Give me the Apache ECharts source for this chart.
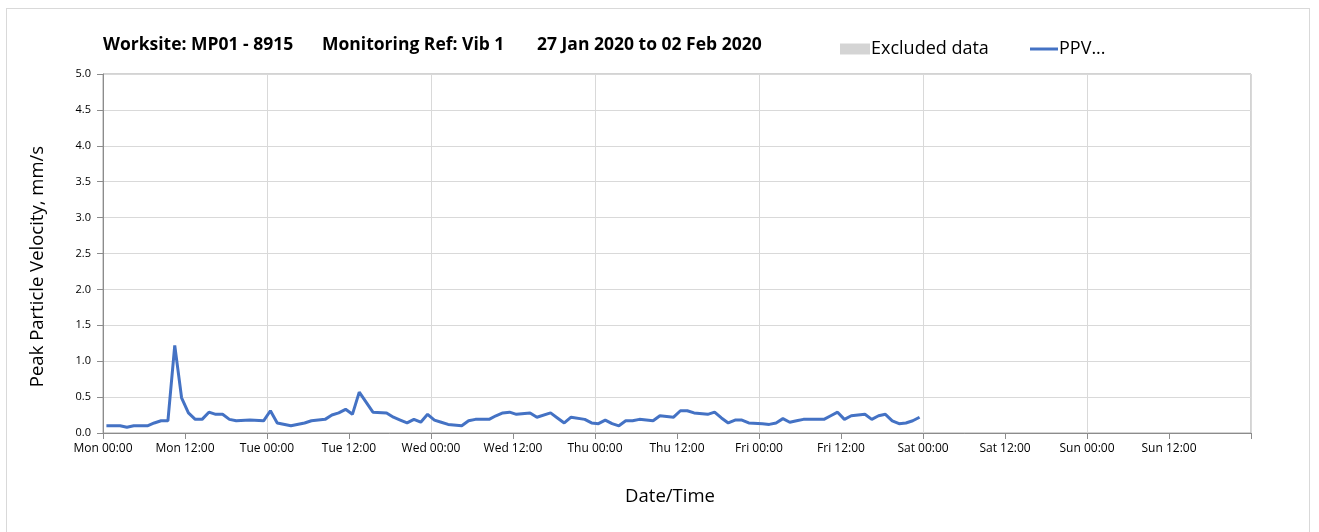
<!DOCTYPE html>
<html>
<head>
<meta charset="utf-8">
<script src="https://cdn.jsdelivr.net/npm/echarts@6/dist/echarts.min.js"></script>
<style>
  html, body { margin: 0; padding: 0; background: #fff; }
  #frame {
    position: absolute; left: 6px; top: 8px;
    width: 1304px; height: 530px;
    border: 1px solid #d9d9d9; box-sizing: border-box;
  }
  #chart { position: absolute; left: 0; top: 0; width: 1319px; height: 532px; }
</style>
</head>
<body>
<div id="frame"></div>
<div id="chart"></div>
<script>
// hours since Mon 27 Jan 2020 00:00
const hours = [
  0.5, 2.5, 3.5, 4.5, 6.5, 7.5, 8.5, 9.5, 10.5, 11.5, 12.5, 13.5, 14.5, 15.5, 16.5, 17.5, 18.5, 19.5, 21.5, 23.5,
  24.5, 25.5, 27.5, 29.5, 30.5, 32.5, 33.5, 34.5, 35.5, 36.5, 37.5, 38.5, 39.5, 41.5, 42.5, 43.5, 44.5, 45.5, 46.5, 47.5,
  48.5, 49.5, 50.5, 52.5, 53.5, 54.5, 56.5, 57.5, 58.5, 59.5, 60.5, 62.5, 63.5, 65.5, 66.5, 67.5, 68.5, 70.5, 71.5,
  72.5, 73.5, 74.5, 75.5, 76.5, 77.5, 78.5, 80.5, 81.5, 83.5, 84.5, 85.5, 86.5, 88.5, 89.5, 90.5, 91.5, 92.5, 93.5, 94.5,
  96.5, 97.5, 98.5, 99.5, 100.5, 101.5, 102.5, 105.5, 106.5, 107.5, 108.5, 109.5, 111.5, 112.5, 113.5, 114.5, 115.5,
  116.5, 117.5, 118.5, 119.5
];
// peak particle velocity, mm/s
const ppv = [
  0.10, 0.10, 0.08, 0.10, 0.10, 0.14, 0.17, 0.17, 1.22, 0.49, 0.28, 0.19, 0.19, 0.29, 0.26, 0.26, 0.19, 0.17, 0.18, 0.17,
  0.31, 0.14, 0.10, 0.14, 0.17, 0.19, 0.25, 0.28, 0.33, 0.26, 0.57, 0.43, 0.29, 0.28, 0.22, 0.18, 0.14, 0.19, 0.15, 0.26,
  0.18, 0.15, 0.12, 0.10, 0.17, 0.19, 0.19, 0.24, 0.28, 0.29, 0.26, 0.28, 0.22, 0.28, 0.21, 0.14, 0.22, 0.19, 0.14,
  0.13, 0.18, 0.13, 0.10, 0.17, 0.17, 0.19, 0.17, 0.24, 0.22, 0.31, 0.31, 0.28, 0.26, 0.29, 0.21, 0.14, 0.18, 0.18, 0.14,
  0.13, 0.12, 0.14, 0.20, 0.15, 0.17, 0.19, 0.19, 0.24, 0.29, 0.19, 0.24, 0.26, 0.19, 0.24, 0.26, 0.17,
  0.13, 0.14, 0.17, 0.22
];
const tickLabels = [
  'Mon 00:00', 'Mon 12:00', 'Tue 00:00', 'Tue 12:00', 'Wed 00:00', 'Wed 12:00', 'Thu 00:00',
  'Thu 12:00', 'Fri 00:00', 'Fri 12:00', 'Sat 00:00', 'Sat 12:00', 'Sun 00:00', 'Sun 12:00', ''
];
const titleParts = ['Worksite: MP01 - 8915', 'Monitoring Ref: Vib 1', '27 Jan 2020 to 02 Feb 2020'];

const font = 'Open Sans, Noto Sans, sans-serif';
const chart = echarts.init(document.getElementById('chart'));

const titleStyle = { fontFamily: font, fontSize: 17.5, fontWeight: 'bold', color: '#000' };

chart.setOption({
  animation: false,
  title: [
    { text: titleParts[0], left: 98, top: 31, textStyle: titleStyle },
    { text: titleParts[1], left: 317, top: 31, textStyle: titleStyle },
    { text: titleParts[2], left: 532, top: 31, textStyle: titleStyle }
  ],
  legend: [
    {
      left: 835, top: 35,
      itemWidth: 30, itemHeight: 11,
      textStyle: { fontFamily: font, fontSize: 18, color: '#000', padding: [0, 0, 0, -4] },
      data: [{ name: 'Excluded data', icon: 'rect' }]
    },
    {
      left: 1025, top: 35,
      itemWidth: 28, itemHeight: 3,
      textStyle: { fontFamily: font, fontSize: 18, color: '#000', padding: [0, 0, 0, -4] },
      data: [{ name: 'PPV...', icon: 'rect' }]
    }
  ],
  grid: {
    left: 103, right: 68, top: 74, bottom: 99,
    show: true, borderColor: '#a6a6a6', borderWidth: 1
  },
  xAxis: [
    {
      type: 'value', min: 0, max: 168, interval: 12,
      name: 'Date/Time', nameLocation: 'middle', nameGap: 54,
      nameTextStyle: { fontFamily: font, fontSize: 18.5, color: '#000', padding: [0, 14, 0, 0] },
      axisLine: { lineStyle: { color: '#8c8c8c' } },
      axisTick: { length: 6, lineStyle: { color: '#8c8c8c' } },
      axisLabel: {
        fontFamily: font, fontSize: 12, color: '#000', margin: 10,
        formatter: v => tickLabels[Math.round(v / 12)]
      },
      splitLine: { show: false }
    },
    {
      type: 'value', min: 0, max: 168, interval: 24, position: 'bottom',
      axisLine: { show: false }, axisTick: { show: false }, axisLabel: { show: false },
      splitLine: { show: true, lineStyle: { color: '#d9d9d9' } }
    }
  ],
  yAxis: {
    type: 'value', min: 0, max: 5, interval: 0.5,
    name: 'Peak Particle Velocity, mm/s', nameLocation: 'middle', nameGap: 56,
    nameTextStyle: { fontFamily: font, fontSize: 18.5, color: '#000', padding: [0, 26, 0, 0] },
    axisLine: { show: true, lineStyle: { color: '#8c8c8c' } },
    axisTick: { show: true, length: 6, lineStyle: { color: '#8c8c8c' } },
    axisLabel: {
      fontFamily: font, fontSize: 11, color: '#000', margin: 12,
      formatter: v => v.toFixed(1)
    },
    splitLine: { lineStyle: { color: '#d9d9d9' } }
  },
  series: [
    {
      name: 'Excluded data', type: 'bar', data: [],
      itemStyle: { color: '#d4d4d4' }
    },
    {
      name: 'PPV...', type: 'line', xAxisIndex: 0,
      data: hours.map((h, i) => [h, ppv[i]]),
      showSymbol: false, symbol: 'none',
      lineStyle: { color: '#4472c4', width: 3 },
      itemStyle: { color: '#4472c4' }
    }
  ]
});
</script>
</body>
</html>
